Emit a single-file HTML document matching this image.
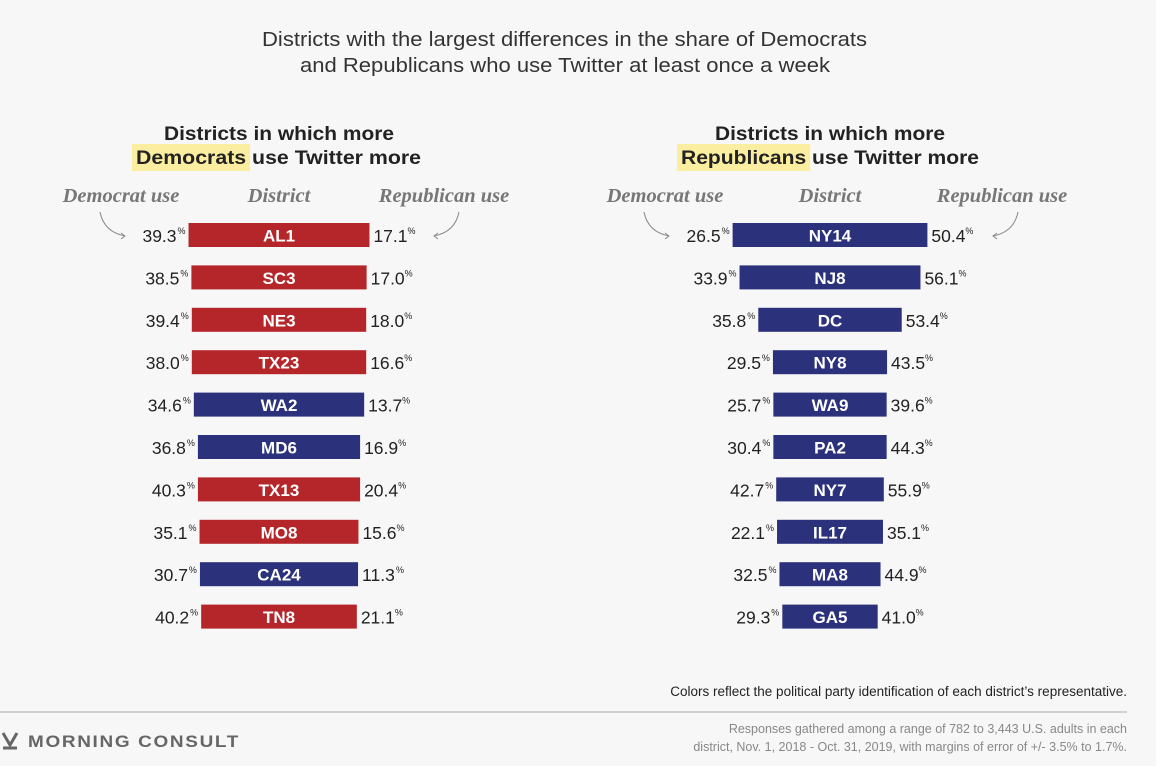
<!DOCTYPE html>
<html><head><meta charset="utf-8"><style>
body{margin:0;background:#f7f7f7;}
svg{display:block;font-family:"Liberation Sans",sans-serif;}
</style></head><body>
<svg id="c" width="1156" height="766" viewBox="0 0 1156 766">
<rect width="1156" height="766" fill="#f7f7f7"/>
<text x="262" y="46" textLength="605" lengthAdjust="spacingAndGlyphs" font-size="20" fill="#333">Districts with the largest differences in the share of Democrats</text>
<text x="300" y="72" textLength="530" lengthAdjust="spacingAndGlyphs" font-size="20" fill="#333">and Republicans who use Twitter at least once a week</text>
<rect id="hlL" x="130" y="144" width="116" height="27" fill="#fbeea0"/>
<rect id="hlR" x="677" y="144" width="128" height="27" fill="#fbeea0"/>
<text x="164" y="140" textLength="230" lengthAdjust="spacingAndGlyphs" font-size="19" font-weight="bold" fill="#222">Districts in which more</text>
<text id="tL" x="136" y="164" textLength="285" lengthAdjust="spacingAndGlyphs" font-size="19" font-weight="bold" fill="#222">Democrats use Twitter more</text>
<text x="715" y="140" textLength="230" lengthAdjust="spacingAndGlyphs" font-size="19" font-weight="bold" fill="#222">Districts in which more</text>
<text id="tR" x="681" y="164" textLength="298" lengthAdjust="spacingAndGlyphs" font-size="19" font-weight="bold" fill="#222">Republicans use Twitter more</text>
<g font-family="Liberation Serif,serif" font-style="italic" font-weight="bold" font-size="20.5" fill="#777">
<text x="121" y="202" text-anchor="middle">Democrat use</text>
<text x="279" y="202" text-anchor="middle">District</text>
<text x="444" y="202" text-anchor="middle">Republican use</text>
<text x="665" y="202" text-anchor="middle">Democrat use</text>
<text x="830" y="202" text-anchor="middle">District</text>
<text x="1002" y="202" text-anchor="middle">Republican use</text>
</g>
<g fill="none" stroke="#888" stroke-width="1">
<path d="M100 212 Q104 232 125 236"/>
<path d="M121 233 L125 236 L121 239"/>
<path d="M459 212 Q455 232 434 236"/>
<path d="M438 233 L434 236 L438 239"/>
<path d="M644 212 Q648 232 669 236"/>
<path d="M665 233 L669 236 L665 239"/>
<path d="M1018 212 Q1014 232 993 236"/>
<path d="M997 233 L993 236 L997 239"/>
</g>
<g id="bars"></g>
<text x="1127" y="696" text-anchor="end" font-size="13.5" fill="#222">Colors reflect the political party identification of each district’s representative.</text>
<line x1="0" y1="712" x2="1127" y2="712" stroke="#aaa"/>
<path d="M3 733 L10 745 L17 733 M3 748 L17 748" stroke="#666" stroke-width="3" fill="none"/>
<text x="28" y="747" textLength="212" lengthAdjust="spacingAndGlyphs" font-size="17" font-weight="bold" letter-spacing="1.5" fill="#666">MORNING CONSULT</text>
<text x="1127" y="733" text-anchor="end" font-size="12.5" fill="#888">Responses gathered among a range of 782 to 3,443 U.S. adults in each</text>
<text x="1127" y="751" text-anchor="end" font-size="12.5" fill="#888">district, Nov. 1, 2018 - Oct. 31, 2019, with margins of error of +/- 3.5% to 1.7%.</text>
</svg>
<script>
const leftDistricts=["AL1","SC3","NE3","TX23","WA2","MD6","TX13","MO8","CA24","TN8"];
const leftDem=[39.3,38.5,39.4,38.0,34.6,36.8,40.3,35.1,30.7,40.2];
const leftRep=[17.1,17.0,18.0,16.6,13.7,16.9,20.4,15.6,11.3,21.1];
const leftParty=["R","R","R","R","D","D","R","R","D","R"];
const rightDistricts=["NY14","NJ8","DC","NY8","WA9","PA2","NY7","IL17","MA8","GA5"];
const rightDem=[26.5,33.9,35.8,29.5,25.7,30.4,42.7,22.1,32.5,29.3];
const rightRep=[50.4,56.1,53.4,43.5,39.6,44.3,55.9,35.1,44.9,41.0];
const rightParty=["D","D","D","D","D","D","D","D","D","D"];
const NS="http://www.w3.org/2000/svg";
const g=document.getElementById('bars');
const scale=8.15, y0=235, step=42.4, bh=24;
function el(t,a,txt){const e=document.createElementNS(NS,t);for(const k in a)e.setAttribute(k,a[k]);if(txt!==undefined)e.textContent=txt;g.appendChild(e);return e;}
function panel(cx,ds,dem,rep,party){
 ds.forEach((d,i)=>{
  const w=Math.abs(dem[i]-rep[i])*scale, x=cx-w/2, y=y0+i*step;
  const r=el('rect',{x:x,y:y-bh/2,width:w,height:bh,fill:party[i]==="R"?"#b5262b":"#2b317a"});
  
  
  const t=el('text',{x:cx,y:y+6.5,'text-anchor':'middle','font-size':17,'font-weight':'bold',fill:'#fff'},d);
  
  
  const a=el('text',{x:x-12,y:y+7,'text-anchor':'end','font-size':17.5,fill:'#222'},dem[i].toFixed(1));
  
  
  const ap=el('text',{x:x-3,y:y-1,'text-anchor':'end','font-size':9,fill:'#222'},'%');
  
  
  const b=el('text',{x:x+w+4,y:y+7,'font-size':17.5,fill:'#222'},rep[i].toFixed(1));
  
  
  const bp=el('text',{x:x+w+38,y:y-1,'font-size':9,fill:'#222'},'%');
  
  
 });
}
panel(279,leftDistricts,leftDem,leftRep,leftParty);
panel(830,rightDistricts,rightDem,rightRep,rightParty);
function hl(tid,rid,n){
 try{const t=document.getElementById(tid),r=document.getElementById(rid);
 const s=t.getStartPositionOfChar(0).x, e=t.getEndPositionOfChar(n-1).x;
 r.setAttribute('x',s-4);r.setAttribute('width',e-s+8);}catch(err){}
}
hl('tL','hlL',9);hl('tR','hlR',11);
</script>
</body></html>
